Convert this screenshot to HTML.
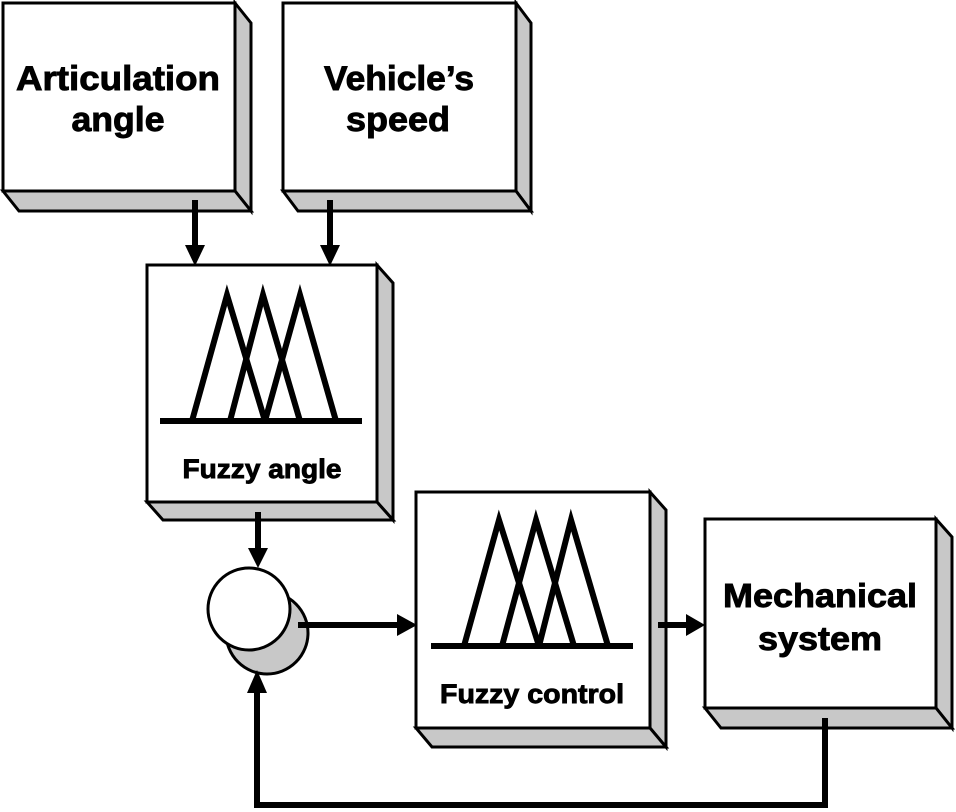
<!DOCTYPE html>
<html><head><meta charset="utf-8"><style>
html,body{margin:0;padding:0;background:#fff;}
svg{display:block;}
text{font-family:"Liberation Sans",Arial,sans-serif;font-weight:bold;fill:#000;stroke:#000;stroke-width:0.9;}
</style></head><body>
<svg width="956" height="812" viewBox="0 0 956 812" xmlns="http://www.w3.org/2000/svg">
<g stroke="#000" stroke-width="3" stroke-linejoin="miter">
<polygon points="235,3 251,23 251,211 235,191" fill="#c8c8c8"/>
<polygon points="3,191 235,191 251,211 19,211" fill="#c8c8c8"/>
<rect x="3" y="3" width="232" height="188" fill="#fff"/>
<polygon points="516,3 531,23 531,211 516,191" fill="#c8c8c8"/>
<polygon points="283,191 516,191 531,211 298,211" fill="#c8c8c8"/>
<rect x="283" y="3" width="233" height="188" fill="#fff"/>
<polygon points="377,265 393,283 393,520 377,502" fill="#c8c8c8"/>
<polygon points="147,502 377,502 393,520 163,520" fill="#c8c8c8"/>
<rect x="147" y="265" width="230" height="237" fill="#fff"/>
<polygon points="650,492 666,510 666,747 650,728" fill="#c8c8c8"/>
<polygon points="416,728 650,728 666,747 432,747" fill="#c8c8c8"/>
<rect x="416" y="492" width="234" height="236" fill="#fff"/>
<polygon points="936,519 952,537 952,728 936,708" fill="#c8c8c8"/>
<polygon points="705,708 936,708 952,728 721,728" fill="#c8c8c8"/>
<rect x="705" y="519" width="231" height="189" fill="#fff"/>
<circle cx="267" cy="633" r="41" fill="#c8c8c8"/>
<circle cx="249" cy="609" r="41" fill="#fff"/>
</g>
<g stroke="#000" stroke-width="6" fill="none" stroke-linejoin="miter">
<line x1="160" y1="421" x2="362" y2="421"/>
<polyline points="192,421 227,295 265,421"/>
<polyline points="230,421 263,295 300,421"/>
<polyline points="265,421 300,295 336,421"/>
<line x1="431" y1="646" x2="633" y2="646"/>
<polyline points="464,646 499,520 539,646"/>
<polyline points="502,646 536,520 574,646"/>
<polyline points="539,646 571,520 608,646"/>
</g>
<g stroke="#000" stroke-width="6" fill="none">
<line x1="195" y1="200" x2="195" y2="248"/>
<line x1="330" y1="200" x2="330" y2="248"/>
<line x1="258" y1="512" x2="258" y2="552"/>
<line x1="298" y1="625" x2="400" y2="625"/>
<line x1="658" y1="625" x2="690" y2="625"/>
<polyline points="825,718 825,805 257,805 257,690"/>
</g>
<g fill="#000">
<polygon points="185,245 205,245 195,266"/>
<polygon points="320,245 340,245 330,266"/>
<polygon points="248,548 268,548 258,568"/>
<polygon points="397,614 397,636 417,625"/>
<polygon points="686,614 686,636 705,625"/>
<polygon points="247,693 267,693 257,670"/>
</g>
<text x="118" y="90" font-size="34" text-anchor="middle" textLength="204" lengthAdjust="spacingAndGlyphs">Articulation</text>
<text x="118" y="131" font-size="34" text-anchor="middle" textLength="93" lengthAdjust="spacingAndGlyphs">angle</text>
<text x="399" y="90" font-size="34" text-anchor="middle" textLength="150" lengthAdjust="spacingAndGlyphs">Vehicle’s</text>
<text x="398" y="131" font-size="34" text-anchor="middle" textLength="104" lengthAdjust="spacingAndGlyphs">speed</text>
<text x="262" y="478" font-size="27" text-anchor="middle" textLength="159" lengthAdjust="spacingAndGlyphs">Fuzzy angle</text>
<text x="532" y="703" font-size="27" text-anchor="middle" textLength="184" lengthAdjust="spacingAndGlyphs">Fuzzy control</text>
<text x="820" y="607" font-size="33" text-anchor="middle" textLength="194" lengthAdjust="spacingAndGlyphs">Mechanical</text>
<text x="820" y="650" font-size="33" text-anchor="middle" textLength="124" lengthAdjust="spacingAndGlyphs">system</text>
</svg>
</body></html>
